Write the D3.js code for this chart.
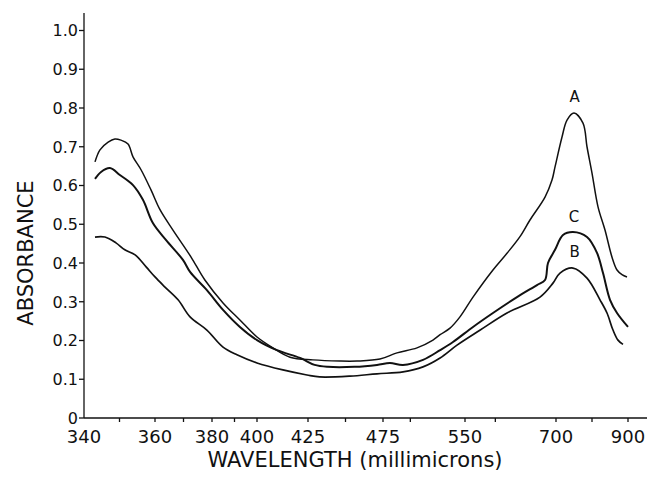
<!DOCTYPE html>
<html>
<head>
<meta charset="utf-8">
<script src="https://cdn.jsdelivr.net/npm/d3@7"></script>
<style>
  html, body { margin: 0; padding: 0; background: #fff; }
  svg { display: block; }
  .tick-label { font-family: "DejaVu Sans", sans-serif; fill: #111; }
  .axis-title { font-family: "DejaVu Sans", sans-serif; fill: #111; }
</style>
</head>
<body>
<svg id="chart" width="649" height="478"></svg>
<script>
// ── Data ──────────────────────────────────────────────────────────────────────
const xTickValues = [340, 360, 380, 400, 425, 475, 550, 700, 900];
const xMinorTicks = [350, 370, 390, 450, 500, 600, 800];
const yTickValues = [0, 0.1, 0.2, 0.3, 0.4, 0.5, 0.6, 0.7, 0.8, 0.9, 1.0];

const curveA = [
  [343.1, 0.661], [344.5, 0.692], [346.8, 0.712], [348.7, 0.720], [350.4, 0.717],
  [352.4, 0.707], [353.8, 0.674], [356.1, 0.640], [358.9, 0.588], [361.8, 0.537],
  [366.3, 0.485], [372.6, 0.416], [377.5, 0.356], [384.9, 0.297], [392.4, 0.253],
  [400.0, 0.209], [407.8, 0.181], [416.2, 0.157], [428.3, 0.150], [446.3, 0.147],
  [457.7, 0.147], [473.0, 0.152], [487.8, 0.168], [506.1, 0.181], [520.7, 0.201],
  [527.2, 0.215], [536.3, 0.232], [545.4, 0.261], [563.2, 0.312], [596.1, 0.382],
  [619.2, 0.425], [640.6, 0.468], [657.1, 0.511], [681.9, 0.570], [693.4, 0.614],
  [698.4, 0.648], [716.7, 0.725], [730.6, 0.769], [750.0, 0.787], [775.0, 0.761],
  [786.1, 0.700], [800.0, 0.632], [816.7, 0.545], [836.1, 0.485], [855.6, 0.415],
  [869.5, 0.382], [883.3, 0.370], [897.2, 0.364]
];

const curveB = [
  [343.1, 0.467], [345.9, 0.467], [349.0, 0.452], [351.5, 0.434], [354.4, 0.421],
  [357.5, 0.390], [360.0, 0.364], [363.5, 0.338], [368.1, 0.305], [372.3, 0.261],
  [378.2, 0.227], [384.9, 0.183], [391.1, 0.163], [400.0, 0.142], [412.7, 0.124],
  [424.5, 0.111], [432.7, 0.106], [453.0, 0.108], [471.0, 0.114], [493.3, 0.119],
  [511.6, 0.132], [527.2, 0.155], [542.7, 0.188], [575.1, 0.227], [619.2, 0.271],
  [673.6, 0.312], [695.0, 0.348], [711.1, 0.374], [747.2, 0.387], [786.1, 0.361],
  [822.2, 0.305], [841.7, 0.271], [858.3, 0.227], [872.2, 0.201], [886.1, 0.190]
];

const curveC = [
  [343.1, 0.617], [344.8, 0.635], [347.3, 0.645], [350.1, 0.627], [353.8, 0.601],
  [356.6, 0.563], [359.4, 0.503], [363.9, 0.459], [369.8, 0.408], [372.3, 0.377],
  [378.2, 0.330], [384.9, 0.279], [392.4, 0.235], [400.0, 0.201], [409.8, 0.175],
  [421.1, 0.155], [429.4, 0.137], [438.1, 0.132], [456.1, 0.132], [471.0, 0.137],
  [481.4, 0.142], [493.3, 0.137], [511.6, 0.150], [527.2, 0.175], [539.0, 0.196],
  [563.2, 0.235], [596.1, 0.271], [635.7, 0.312], [668.7, 0.343], [681.9, 0.356],
  [686.8, 0.400], [698.4, 0.434], [719.4, 0.472], [747.2, 0.480], [786.1, 0.467],
  [813.9, 0.426], [830.6, 0.374], [850.0, 0.305], [869.5, 0.271], [900.0, 0.235]
];

const curveLabels = [
  { name: "A", at: [752, 0.815] },
  { name: "C", at: [750, 0.505] },
  { name: "B", at: [752, 0.415] }
];

// ── Scales ────────────────────────────────────────────────────────────────────
const svg = d3.select("#chart");
const plotLeft = 84, plotRight = 647, plotBottom = 418;

// the printed wavelength axis is not linear: piecewise between the labelled ticks
const x = d3.scaleLinear()
  .domain(xTickValues)
  .range([84, 155, 212, 257, 308, 383, 465, 556, 628]);

const y = d3.scaleLinear().domain([0, 1]).range([plotBottom, 30.5]);

// ── Axes ──────────────────────────────────────────────────────────────────────
const ax = svg.append("g").attr("stroke", "#111").attr("stroke-width", 1.3);
ax.append("line").attr("x1", plotLeft).attr("x2", plotLeft).attr("y1", 13).attr("y2", plotBottom);
ax.append("line").attr("x1", plotLeft).attr("x2", plotRight).attr("y1", plotBottom).attr("y2", plotBottom);

ax.selectAll("line.ytick").data(yTickValues).join("line")
  .attr("class", "ytick")
  .attr("x1", plotLeft - 5).attr("x2", plotLeft)
  .attr("y1", d => y(d)).attr("y2", d => y(d));

ax.selectAll("line.xtick").data(xTickValues.slice(1).concat(xMinorTicks)).join("line")
  .attr("class", "xtick")
  .attr("x1", d => x(d)).attr("x2", d => x(d))
  .attr("y1", plotBottom).attr("y2", plotBottom + 4);

svg.selectAll("text.ylab").data(yTickValues).join("text")
  .attr("class", "tick-label ylab")
  .attr("x", plotLeft - 6).attr("y", d => y(d))
  .attr("dy", "0.36em").attr("text-anchor", "end")
  .attr("font-size", 16)
  .text(d => d === 0 ? "0" : d.toFixed(1));

svg.selectAll("text.xlab").data(xTickValues).join("text")
  .attr("class", "tick-label xlab")
  .attr("x", d => x(d)).attr("y", plotBottom + 25)
  .attr("text-anchor", "middle")
  .attr("font-size", 18)
  .text(d => d);

svg.append("text").attr("class", "axis-title")
  .attr("x", 355).attr("y", 467)
  .attr("text-anchor", "middle").attr("font-size", 21)
  .text("WAVELENGTH (millimicrons)");

svg.append("text").attr("class", "axis-title")
  .attr("transform", "translate(33,253) rotate(-90)")
  .attr("text-anchor", "middle").attr("font-size", 21)
  .text("ABSORBANCE");

// ── Curves ────────────────────────────────────────────────────────────────────
const line = d3.line().x(d => x(d[0])).y(d => y(d[1])).curve(d3.curveCatmullRom.alpha(0.5));

[[curveA, 1.5], [curveB, 1.7], [curveC, 2.0]].forEach(([data, w]) => {
  svg.append("path").datum(data)
    .attr("d", line)
    .attr("fill", "none").attr("stroke", "#111")
    .attr("stroke-width", w).attr("stroke-linejoin", "round");
});

svg.selectAll("text.clab").data(curveLabels).join("text")
  .attr("class", "tick-label clab")
  .attr("x", d => x(d.at[0])).attr("y", d => y(d.at[1]))
  .attr("text-anchor", "middle").attr("font-size", 15)
  .text(d => d.name);
</script>
</body>
</html>
